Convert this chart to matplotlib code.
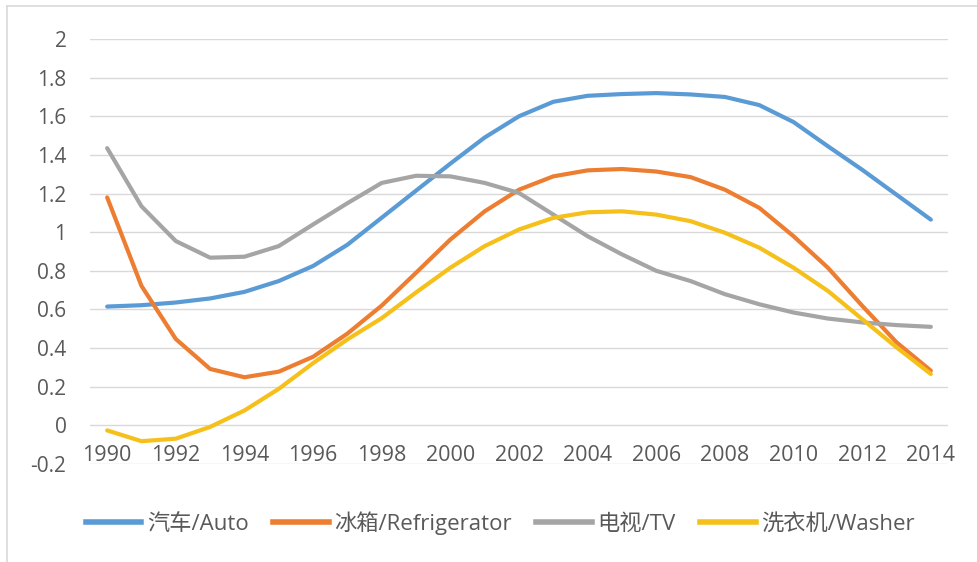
import matplotlib.pyplot as plt
from matplotlib.lines import Line2D

plt.rcParams['font.family'] = ['Open Sans', 'Noto Sans CJK SC', 'DejaVu Sans']

years = list(range(1990, 2015))
year_labels = [str(y) for y in range(1990, 2015, 2)]

auto = [0.615, 0.622, 0.636, 0.657, 0.691, 0.747, 0.825, 0.935, 1.075, 1.215,
        1.355, 1.49, 1.60, 1.675, 1.706, 1.715, 1.72, 1.713, 1.70, 1.658,
        1.57, 1.445, 1.323, 1.194, 1.065]
fridge = [1.18, 0.722, 0.447, 0.292, 0.249, 0.278, 0.355, 0.475, 0.62, 0.79,
          0.962, 1.108, 1.22, 1.289, 1.32, 1.327, 1.314, 1.285, 1.22, 1.126,
          0.979, 0.816, 0.619, 0.43, 0.283]
tv = [1.435, 1.134, 0.954, 0.868, 0.873, 0.928, 1.04, 1.15, 1.255, 1.292,
      1.289, 1.255, 1.203, 1.091, 0.979, 0.885, 0.80, 0.747, 0.679, 0.627,
      0.584, 0.553, 0.533, 0.519, 0.51]
washer = [-0.026, -0.082, -0.069, -0.008, 0.077, 0.189, 0.322, 0.445, 0.555, 0.688,
          0.816, 0.928, 1.014, 1.074, 1.103, 1.108, 1.091, 1.057, 0.997, 0.92,
          0.816, 0.696, 0.55, 0.404, 0.266]

series_names = ['汽车/Auto', '冰箱/Refrigerator', '电视/TV', '洗衣机/Washer']
colors = ['#5B9BD5', '#ED7D31', '#A5A5A5', '#F5C01A']
text_color = '#595959'
grid_color = '#D9D9D9'

fig = plt.figure(figsize=(9.77, 5.62), dpi=100)
ax = fig.add_axes([90 / 977, 1 - 464 / 562, 858 / 977, 425 / 562])

for data, c, name in zip([auto, fridge, tv, washer], colors, series_names):
    ax.plot(years, data, color=c, lw=3, solid_capstyle='round', label=name, zorder=3)

ax.set_xlim(1989.5, 2014.5)
ax.set_ylim(-0.2, 2.0)
yt = [-0.2, 0, 0.2, 0.4, 0.6, 0.8, 1, 1.2, 1.4, 1.6, 1.8, 2]
ax.set_yticks(yt)
ax.set_yticklabels(['-0.2', '0', '0.2', '0.4', '0.6', '0.8', '1', '1.2', '1.4', '1.6', '1.8', '2'])
ax.yaxis.grid(True, color=grid_color, lw=1)
ax.set_axisbelow(True)

ax.set_xticks(range(1990, 2015, 2))
ax.set_xticklabels(year_labels)
ax.spines['bottom'].set_position(('data', 0))
for s in ax.spines.values():
    s.set_visible(False)
ax.tick_params(axis='x', length=0, pad=14, labelsize=15.5, labelcolor=text_color)
ax.tick_params(axis='y', length=0, pad=17, labelsize=15, labelcolor=text_color)

handles = [Line2D([], [], color=c, lw=4) for c in colors]
fig.legend(handles, series_names, loc='center', bbox_to_anchor=(0.512, 0.069),
           ncol=4, frameon=False, fontsize=16, labelcolor=text_color,
           handlelength=2.5, handletextpad=0.25, columnspacing=1.1)

# chart border (top and left edges visible)
fig.add_artist(Line2D([7 / 977, 1], [1 - 6 / 562, 1 - 6 / 562], color=grid_color, lw=1.2))
fig.add_artist(Line2D([7 / 977, 7 / 977], [0, 1 - 6 / 562], color=grid_color, lw=1.2))

fig.savefig('out.png', dpi=100)
